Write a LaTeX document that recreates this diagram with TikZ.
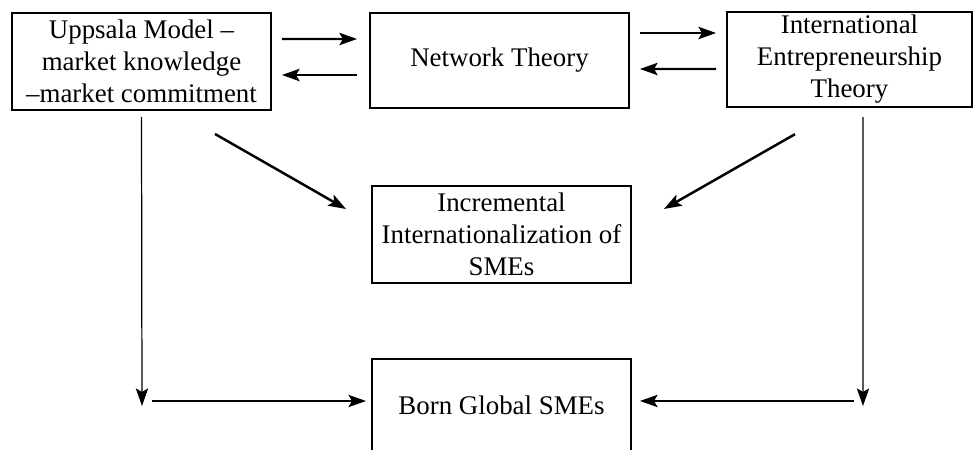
\documentclass[tikz,border=0pt]{standalone}
\usepackage{fontspec}
\setmainfont{Liberation Serif}
\usepackage{tikz}
\usetikzlibrary{arrows.meta,positioning,calc}

\tikzset{
  theorybox/.style={draw, line width=1.1pt, align=center, inner sep=2pt, font=\fontsize{15.3}{18.2}\selectfont},
  flow/.style={->, line width=1.4pt},
  thinflow/.style={->, line width=0.7pt},
}

\begin{document}
\begin{tikzpicture}[auto, >={Stealth[length=10pt,width=7pt,inset=2pt]}]
\clip (0,0) rectangle (19.5,9);

  % Define coordinates for nodes
\node[theorybox, minimum width=5.18cm, minimum height=1.94cm] (upp) at (2.83, 7.77) {Uppsala Model --\\market knowledge\\--market commitment}; \node[theorybox, minimum width=5.18cm, minimum height=1.9cm] (net) at (9.99, 7.79) {Network Theory}; \node[theorybox, minimum width=4.9cm, minimum height=1.9cm] (iet) at (16.99, 7.81) {International\\Entrepreneurship\\Theory}; \node[theorybox, minimum width=5.18cm, minimum height=1.94cm] (inc) at (10.03, 4.31) {Incremental\\Internationalization of\\SMEs}; \node[theorybox, minimum width=5.18cm, minimum height=1.84cm] (born) at (10.03, 0.9) {Born Global SMEs}; \coordinate (lbend) at (2.84, 0.98); \coordinate (rbend) at (17.26, 0.98);

  % Draw arrows between nodes
\draw[flow] ([shift={(0.2,0.45)}]upp.east) -- ([shift={(-0.24,0.43)}]net.west); \draw[flow] ([shift={(-0.24,-0.29)}]net.west) -- ([shift={(0.2,-0.27)}]upp.east); \draw[flow] ([shift={(0.2,0.55)}]net.east) -- ([shift={(-0.2,0.53)}]iet.west); \draw[flow] ([shift={(-0.2,-0.19)}]iet.west) -- ([shift={(0.2,-0.17)}]net.east); \draw[flow] ([shift={(1.47,-0.46)}]upp.south) -- ([shift={(-0.5,0.51)}]inc.west); \draw[flow] ([shift={(-1.09,-0.52)}]iet.south) -- ([shift={(0.64,0.51)}]inc.east); \draw[thinflow] ([yshift=-0.12cm]upp.south) -- ([yshift=-0.1cm]lbend); \draw[thinflow] ([shift={(0.27,-0.18)}]iet.south) -- ([yshift=-0.1cm]rbend); \draw[flow, line width=1pt, shorten >=0.1cm] ([xshift=0.2cm]lbend) -- (born.west |- lbend); \draw[flow, line width=1pt, shorten >=0.16cm] ([xshift=-0.18cm]rbend) -- (born.east |- rbend);

\end{tikzpicture}
\end{document}
